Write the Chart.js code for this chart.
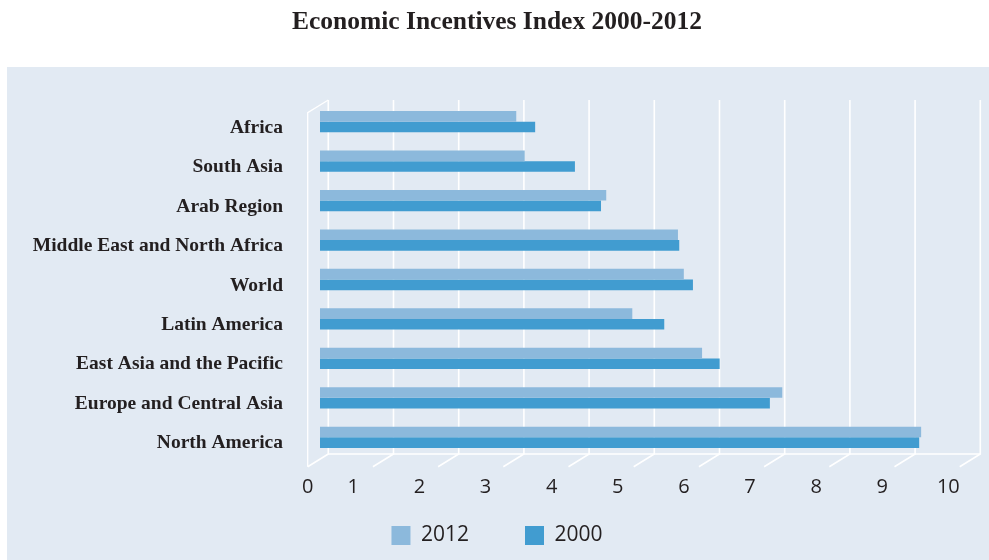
<!DOCTYPE html>
<html><head><meta charset="utf-8">
<script src="https://cdn.jsdelivr.net/npm/chart.js@4.4.1/dist/chart.umd.min.js"></script>
<style>html,body{margin:0;padding:0;background:#fff;overflow:hidden}</style>
</head><body>
<canvas id="c" width="989" height="560"></canvas>
<script>
const TITLE = 'Economic Incentives Index 2000-2012';
const categories = ['Africa', 'South Asia', 'Arab Region', 'Middle East and North Africa', 'World',
  'Latin America', 'East Asia and the Pacific', 'Europe and Central Asia', 'North America'];
const values2012 = [3.01, 3.14, 4.39, 5.49, 5.58, 4.79, 5.86, 7.09, 9.22];
const values2000 = [3.30, 3.91, 4.31, 5.51, 5.72, 5.28, 6.13, 6.90, 9.19];
const seriesNames = ['2012', '2000'];
const xTicks = [0, 1, 2, 3, 4, 5, 6, 7, 8, 9, 10];

const COLORS = ['#8cb9dc', '#419cd0'];
const PANEL = '#e2eaf3';
const TEXT = '#231f20';
const BACK_DX = 8.3, FRONT_DX = -12.3, FRONT_DY = 12.7;

const panelPlugin = {
  id: 'panel',
  beforeDraw(chart) {
    const ctx = chart.ctx;
    ctx.save();
    ctx.fillStyle = '#ffffff';
    ctx.fillRect(0, 0, chart.width, chart.height);
    ctx.fillStyle = PANEL;
    ctx.fillRect(7, 67, chart.width - 7, chart.height - 67);
    ctx.restore();
  }
};

const gridPlugin = {
  id: 'grid3d',
  beforeDatasetsDraw(chart) {
    const {ctx, chartArea, scales: {x}} = chart;
    const top = chartArea.top - 2;
    const floor = chartArea.bottom - 3;
    ctx.save();
    ctx.strokeStyle = '#ffffff';
    ctx.lineWidth = 1.6;
    xTicks.forEach(v => {
      const px = x.getPixelForValue(v);
      ctx.beginPath();
      ctx.moveTo(px + BACK_DX, top);
      ctx.lineTo(px + BACK_DX, floor);
      ctx.lineTo(px + FRONT_DX, floor + FRONT_DY);
      ctx.stroke();
    });
    const p0 = x.getPixelForValue(xTicks[0]);
    const p1 = x.getPixelForValue(xTicks[xTicks.length - 1]);
    ctx.beginPath();
    ctx.moveTo(p0 + BACK_DX, floor);
    ctx.lineTo(p1 + BACK_DX, floor);
    ctx.stroke();
    ctx.lineWidth = 1.3;
    ctx.beginPath();
    ctx.moveTo(p0 + BACK_DX, top);
    ctx.lineTo(p0 + FRONT_DX, top + FRONT_DY);
    ctx.lineTo(p0 + FRONT_DX, floor + FRONT_DY);
    ctx.stroke();
    ctx.restore();
  },
  afterDraw(chart) {
    const {ctx, chartArea, scales: {x}} = chart;
    ctx.save();
    ctx.fillStyle = TEXT;
    ctx.font = '20px "Open Sans"';
    ctx.textAlign = 'center';
    ctx.textBaseline = 'middle';
    xTicks.forEach(v => {
      const px = v === 0 ? x.getPixelForValue(v) + FRONT_DX : x.getPixelForValue(v * 1.014) - 32.8;
      ctx.fillText(String(v), px, chartArea.bottom + 30);
    });
    ctx.restore();
  }
};

new Chart(document.getElementById('c'), {
  type: 'bar',
  data: {
    labels: categories,
    datasets: [
      {label: seriesNames[0], data: values2012, backgroundColor: COLORS[0], borderWidth: 0},
      {label: seriesNames[1], data: values2000, backgroundColor: COLORS[1], borderWidth: 0}
    ]
  },
  options: {
    indexAxis: 'y',
    responsive: false,
    animation: false,
    devicePixelRatio: 1,
    layout: {padding: {top: 0, right: 17, bottom: 4, left: 22}},
    datasets: {bar: {barPercentage: 1.0, categoryPercentage: 0.54}},
    scales: {
      x: {
        min: 0, max: 10,
        grid: {display: false, drawTicks: false},
        border: {display: false},
        ticks: {display: false, stepSize: 1},
        afterFit(scale) { scale.height = 12; }
      },
      y: {
        grid: {display: false, drawTicks: false},
        border: {display: false},
        ticks: {
          color: TEXT,
          padding: 37,
          labelOffset: 6,
          font: {family: '"Liberation Serif", serif', weight: 'bold', size: 19.5}
        },
        afterFit(scale) { scale.width = 298; }
      }
    },
    plugins: {
      title: {
        display: true,
        text: TITLE,
        color: TEXT,
        font: {family: '"Liberation Serif", serif', weight: 'bold', size: 25.5, lineHeight: 1.2},
        padding: {top: 7, bottom: 64.4}
      },
      legend: {
        position: 'bottom',
        labels: {
          color: TEXT,
          boxWidth: 19,
          boxHeight: 19,
          padding: 56,
          font: {family: '"Open Sans", sans-serif', size: 21}
        }
      },
      tooltip: {enabled: false}
    }
  },
  plugins: [panelPlugin, gridPlugin]
});
</script>
</body></html>
